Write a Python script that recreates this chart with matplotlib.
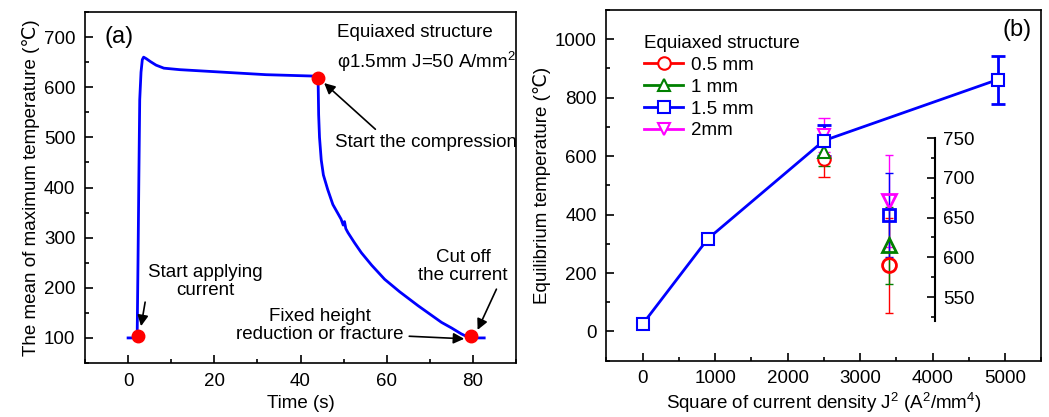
import numpy as np
import matplotlib.pyplot as plt
from matplotlib.ticker import MultipleLocator

plt.rcParams['font.family'] = ['Liberation Sans', 'DejaVu Sans']
plt.rcParams['mathtext.fontset'] = 'custom'
plt.rcParams['mathtext.rm'] = 'Liberation Sans'
plt.rcParams['font.size'] = 13.5

# (a) temperature history, phi 1.5 mm, J = 50 A/mm2
time_s = [0, 2.1, 2.3, 2.5, 2.7, 3.0, 3.3, 3.6, 4.2, 5.2, 6.5, 8.3, 12, 20, 32, 40,
          44.0, 44.1, 44.2, 44.4, 44.8, 45.3, 46.3, 47.5, 49.4, 49.9, 50.2, 50.5,
          51.0, 52.5, 54.1, 56.5, 59.5, 63, 67.3, 72.7, 75, 77.3, 79.0, 79.7, 82.6]
temp_c = [100, 100, 250, 420, 575, 630, 655, 660, 657, 651, 644, 638, 635, 631, 625, 623,
          622, 600, 545, 500, 455, 425, 396, 366, 337, 325, 332, 318,
          310, 290, 270, 245, 217, 192, 164, 131, 120, 108, 101, 100, 100]
event_t = [2.3, 44.0, 79.5]
event_T = [103, 619, 103]

# (b) equilibrium temperature vs J^2
j2_15 = [0, 900, 2500, 4900]
teq_15 = [25, 317, 653, 862]
err_15 = [0, 0, 53, 82]
j2_other = 2500
sizes = ['0.5 mm', '1 mm', '2mm']
teq_other = [590, 615, 671]
err_other = [60, 48, 58]
colors_other = ['red', 'green', 'magenta']
markers_other = ['o', '^', 'v']

fig = plt.figure(figsize=(10.49, 4.17), dpi=100)
ax1 = fig.add_axes([0.081, 0.1295, 0.411, 0.8417])
ax2 = fig.add_axes([0.578, 0.135, 0.4147, 0.841])

# ---- panel a
ax1.plot(time_s, temp_c, color='blue', lw=2)
ax1.plot(event_t, event_T, 'o', color='red', ms=9, zorder=5)
ax1.set_xlim(-10, 90)
ax1.set_ylim(50, 750)
ax1.xaxis.set_major_locator(MultipleLocator(20))
ax1.xaxis.set_minor_locator(MultipleLocator(10))
ax1.yaxis.set_major_locator(MultipleLocator(100))
ax1.yaxis.set_minor_locator(MultipleLocator(50))
ax1.set_xlabel('Time (s)', labelpad=4)
ax1.set_ylabel('The mean of maximum temperature (\u2103)', labelpad=3)
ax1.text(-5.5, 700, '(a)', fontsize=17, va='center')
ax1.text(48.5, 710, 'Equiaxed structure', va='center')
ax1.text(48.5, 651, '\u03c61.5mm J=50 A/mm$^{2}$', va='center')

arr = dict(arrowstyle='-|>', color='k', lw=1.2, mutation_scale=16)
ax1.annotate('Start the compression', xy=(45.0, 612), xytext=(48, 490),
             va='center', arrowprops=dict(arr, relpos=(0.25, 1.0)))
ax1.annotate('Start applying\ncurrent', xy=(2.9, 118), xytext=(18, 213),
             ha='center', va='center', linespacing=1.1,
             arrowprops=dict(arr, relpos=(0.0, 0.45)))
ax1.annotate('Cut off\nthe current', xy=(80.8, 111), xytext=(77.7, 243),
             ha='center', va='center', linespacing=1.1,
             arrowprops=dict(arr, relpos=(0.9, 0.0)))
ax1.annotate('Fixed height\nreduction or fracture', xy=(78.6, 98), xytext=(44.5, 125),
             ha='center', va='center', linespacing=1.1,
             arrowprops=dict(arr, relpos=(1.0, 0.2)))

# ---- panel b
ax2.errorbar(j2_15[2:], teq_15[2:], yerr=err_15[2:], fmt='none', ecolor='blue',
             elinewidth=2, capsize=5, capthick=2, zorder=3)
for s, v, e, c, m in zip(sizes, teq_other, err_other, colors_other, markers_other):
    ax2.errorbar([j2_other], [v], yerr=[e], fmt='none', ecolor=c, elinewidth=1,
                 capsize=4, capthick=1, zorder=2)
handles = []
for s, v, c, m in zip(sizes[:2], teq_other[:2], colors_other[:2], markers_other[:2]):
    h, = ax2.plot([j2_other], [v], '-', marker=m, color=c, lw=2, ms=9,
                  mfc='white', mew=1.5, label=s, zorder=4)
    handles.append(h)
h, = ax2.plot(j2_15, teq_15, '-', marker='s', color='blue', lw=2, ms=9,
              mfc='white', mew=1.5, label='1.5 mm', zorder=5)
handles.append(h)
h, = ax2.plot([j2_other], [teq_other[2]], '-', marker='v', color='magenta', lw=2,
              ms=9, mfc='white', mew=1.5, label=sizes[2], zorder=4)
handles.append(h)

ax2.set_xlim(-500, 5500)
ax2.set_ylim(-100, 1100)
ax2.xaxis.set_major_locator(MultipleLocator(1000))
ax2.xaxis.set_minor_locator(MultipleLocator(500))
ax2.yaxis.set_major_locator(MultipleLocator(200))
ax2.yaxis.set_minor_locator(MultipleLocator(100))
ax2.set_xlabel('Square of current density J$^{2}$ (A$^{2}$/mm$^{4}$)', labelpad=2)
ax2.set_ylabel('Equilibrium temperature (\u2103)', labelpad=3)
ax2.text(5160, 1030, '(b)', fontsize=17, ha='center', va='center')
leg = ax2.legend(handles=handles, title='Equiaxed structure', loc='upper left',
                 bbox_to_anchor=(0.065, 0.955), frameon=False, borderpad=0,
                 handlelength=2.1, handletextpad=0.4, labelspacing=0.25,
                 alignment='left', title_fontsize=13.5)

# inset: zoom of the points at 2500
ins = ax2.inset_axes([3000, 36, 1032, 626], transform=ax2.transData)
ins.patch.set_alpha(0)
ins.set_xlim(3000, 4032)
ins.set_ylim(520, 750)
inset_x = 3400
for v, e, c in zip(teq_other, err_other, colors_other):
    ins.errorbar([inset_x], [v], yerr=[e], fmt='none', ecolor=c, elinewidth=1,
                 capsize=3, capthick=1)
ins.errorbar([inset_x], [teq_15[2]], yerr=[err_15[2]], fmt='none', ecolor='blue',
             elinewidth=1, capsize=3, capthick=1)
for v, c, m in zip(teq_other, colors_other, markers_other):
    ins.plot([inset_x], [v], marker=m, color=c, ms=10, mfc='none', mew=2, zorder=4)
ins.plot([inset_x], [teq_15[2]], marker='s', color='blue', ms=9, mfc='none', mew=2,
         zorder=4)
for sp in ['left', 'top', 'bottom']:
    ins.spines[sp].set_visible(False)
ins.spines['right'].set_linewidth(1.5)
ins.set_xticks([])
ins.yaxis.tick_right()
ins.yaxis.set_major_locator(MultipleLocator(50))
ins.yaxis.set_minor_locator(MultipleLocator(25))
ins.tick_params(axis='y', which='both', direction='in', width=1.2, pad=6)
ins.tick_params(axis='y', which='major', length=6)
ins.tick_params(axis='y', which='minor', length=3)

for ax in (ax1, ax2):
    for sp in ax.spines.values():
        sp.set_linewidth(1.2)
    ax.tick_params(which='both', direction='in', width=1.2, pad=7)
    ax.tick_params(which='major', length=6)
    ax.tick_params(which='minor', length=3)

fig.savefig('out.png', dpi=100)
